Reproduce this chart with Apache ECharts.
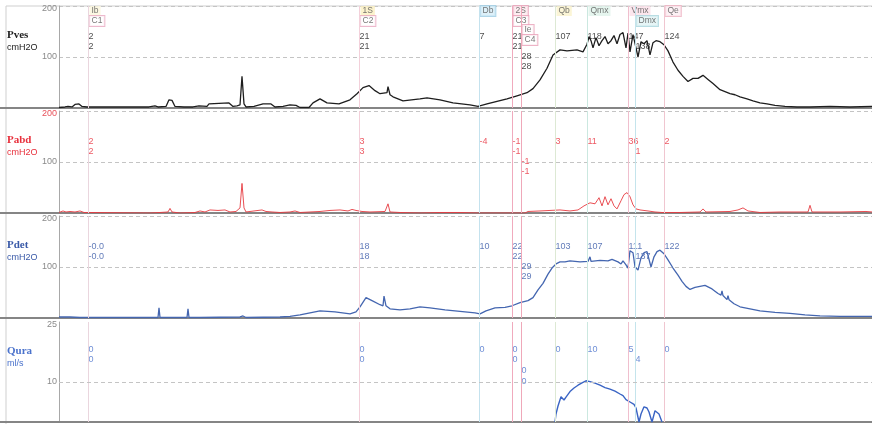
<!DOCTYPE html>
<html><head><meta charset="utf-8">
<script src="https://cdn.jsdelivr.net/npm/echarts@6/dist/echarts.min.js"></script>
<style>html,body{margin:0;padding:0;background:#fff}#c{width:872px;height:424px}</style>
</head><body><div id="c"></div>
<script>
// ---- DATA (time in s, values in cmH2O / ml/s) ----
const eventNames = ['Ib','1S','Db','2S','Ie','Qb','Qmx','Vmx','Dmx','Qe'];
const eventSub   = ['C1','C2','','C3','C4','','','','',''];
const eventTimes = [29,300,420,453,462,496,528,569,576,605];

const pvesRead = [['2','2'],['21','21'],['7'],['21','21'],['28','28'],['107'],['118'],['147'],['','138'],['124']];
const pabdRead = [['2','2'],['3','3'],['-4'],['-1','-1'],['-1','-1'],['3'],['11'],['36'],['','1'],['2']];
const pdetRead = [['-0.0','-0.0'],['18','18'],['10'],['22','22'],['29','29'],['103'],['107'],['111'],['','137'],['122']];
const quraRead = [['0','0'],['0','0'],['0'],['0','0'],['0','0'],['0'],['10'],['5'],['','4'],['0']];

const pves = [[0,1],[6,2],[9,3],[13,2],[16,7],[20,8],[23,3],[28,2],[36,2],[90,2],[96,4],[99,2],[107,3],[110,16],[113,15],[116,3],[125,2],[134,2],[140,4],[148,3],[150,8],[160,9],[170,10],[174,3],[178,4],[181,6],[183,62],[185,8],[187,2],[195,3],[204,8],[212,8],[216,2],[224,3],[231,6],[237,5],[241,1],[250,1],[254,10],[261,18],[268,10],[280,8],[291,16],[298,28],[304,40],[310,44],[316,34],[321,28],[328,30],[329,42],[331,26],[334,22],[344,14],[361,18],[368,20],[381,16],[394,10],[411,6],[419,3],[428,8],[438,13],[448,18],[458,24],[468,30],[474,38],[481,55],[488,78],[494,104],[501,114],[508,112],[518,114],[524,110],[528,125],[530,140],[532,132],[534,118],[537,138],[540,122],[543,132],[546,140],[549,126],[552,132],[555,142],[558,126],[561,144],[564,148],[567,118],[569,147],[571,110],[574,144],[577,118],[579,100],[582,130],[585,126],[588,132],[591,104],[594,128],[597,132],[601,130],[605,124],[609,112],[614,90],[619,74],[624,62],[629,52],[634,58],[639,58],[644,64],[649,56],[654,48],[661,36],[666,32],[671,28],[676,26],[681,22],[688,18],[694,14],[701,10],[708,8],[716,5],[726,3],[738,2],[751,2],[771,3],[791,2],[813,3]];

const pabd = [[0,1],[4,4],[7,2],[11,3],[16,2],[21,4],[25,1],[31,1],[91,0],[101,1],[109,2],[111,9],[113,2],[121,0],[136,1],[141,4],[146,2],[151,6],[159,5],[166,6],[171,2],[177,3],[181,10],[183,58],[185,10],[187,2],[191,3],[203,6],[207,3],[213,2],[221,1],[231,2],[236,4],[241,1],[251,2],[261,3],[271,5],[281,6],[289,4],[293,7],[297,5],[303,3],[311,2],[326,3],[329,18],[331,2],[341,1],[361,0],[381,1],[401,1],[419,0],[441,0],[466,0],[469,3],[481,4],[491,5],[501,6],[511,4],[519,6],[525,14],[531,20],[536,18],[540,30],[543,14],[546,32],[549,16],[552,28],[555,14],[558,8],[562,24],[565,36],[568,40],[571,32],[574,16],[577,8],[581,6],[589,4],[596,2],[603,1],[621,1],[641,2],[644,8],[647,2],[671,3],[679,6],[684,10],[689,4],[701,1],[721,2],[749,2],[751,15],[753,2],[781,2],[807,3],[813,2]];

const pdet = [[0,2],[11,2],[21,1],[91,1],[99,1],[100,20],[101,1],[128,1],[129,18],[130,1],[141,1],[181,2],[184,4],[187,1],[221,2],[231,3],[241,6],[251,10],[261,14],[276,12],[291,8],[297,12],[301,22],[307,40],[313,34],[321,26],[324,24],[325,43],[327,24],[331,18],[341,16],[351,18],[361,22],[371,20],[386,16],[401,13],[416,10],[421,8],[427,14],[436,20],[446,21],[453,24],[461,30],[469,34],[474,40],[479,55],[484,68],[489,86],[493,98],[497,106],[501,110],[506,110],[511,112],[521,110],[529,111],[531,120],[532,111],[541,113],[549,112],[553,115],[559,110],[562,106],[564,112],[567,104],[569,98],[571,132],[574,128],[576,100],[579,94],[582,118],[585,128],[588,130],[592,100],[595,120],[598,130],[601,133],[605,126],[609,114],[614,98],[619,84],[623,72],[627,62],[631,56],[636,60],[641,62],[646,64],[653,57],[659,48],[662,45],[663,53],[664,44],[668,36],[669,44],[670,36],[675,28],[681,22],[691,18],[701,14],[716,11],[731,9],[746,6],[761,4],[781,3],[801,3],[813,3]];

const qura = [[496,0],[497,2],[498,1.5],[499,4],[502,6.3],[505,5.5],[507,6.2],[511,7.6],[515,8.5],[519,9.2],[523,9.8],[527,10.3],[531,10.1],[536,9.7],[541,9.2],[546,8.6],[551,8.2],[556,7.7],[561,7.0],[564,6.6],[567,5.6],[571,5.0],[575,4.4],[577,3.5],[580,0],[582,2],[585,3.8],[588,3.5],[590,2.5],[593,0],[596,2.8],[598,3.2],[600,2],[603,0]];

const panelNames = ['Pves','Pabd','Pdet','Qura'];
const panelUnits = ['cmH2O','cmH2O','cmH2O','ml/s'];

// ---- LAYOUT / STYLE ----
const T_MAX = 813;
const G = [
  {top:6,   height:102, max:200, interval:100, rows:[31,41,51,61]},
  {top:111, height:102, max:200, interval:100, rows:[31,41,51,61]},
  {top:216, height:102, max:200, interval:100, rows:[31,41,51,61]},
  {top:322, height:100, max:25,  interval:5,   rows:[28,38,49,60]}
];
const readRowStart = [0,0,0,0,2,0,0,0,0,0];
const tagRowStart  = [0,0,0,0,2,0,0,0,1,0];
const tagRowsPx = [5,15,24,34];
const traceColors = ['#1e1e1e','#e63a3f','#4466b0','#3a64c4'];
const traceWidths = [1.3, 0.9, 1.3, 1.4];
const textColors  = ['#222222','#e8303c','#3a5aa8','#4a72cc'];
const evColors = ['#ead6de','#f3d0da','#c4e2ee','#f0aabd','#efa8b9','#dde9d4','#cbe8e0','#f0bfce','#c4e4ec','#f0c6d0'];
const tagStyle = {
  'Ib': {bg:'#fbf6dc', bd:'transparent'}, 'C1': {bg:'#ffffff', bd:'#e8a8c0'},
  '1S': {bg:'#fbf0c0', bd:'transparent'}, 'C2': {bg:'#ffffff', bd:'#e8a8c0'},
  'Db': {bg:'#d4ecf8', bd:'#9ccce4'},
  '2S': {bg:'#fde8ee', bd:'#e8a0b8'}, 'C3': {bg:'#ffffff', bd:'#e8a0b8'},
  'Ie': {bg:'#ffffff', bd:'#e8a0b8'}, 'C4': {bg:'#ffffff', bd:'#e8a0b8'},
  'Qb': {bg:'#faf3cc', bd:'transparent'}, 'Qmx': {bg:'#dff2ea', bd:'transparent'},
  'Vmx': {bg:'#fbe0e8', bd:'transparent'}, 'Dmx': {bg:'#e0f2f4', bd:'#a8d4dc'},
  'Qe': {bg:'#fdeef2', bd:'#eeb0c0'}
};
const FONT = 'Liberation Sans, Arial, sans-serif';

const chart = echarts.init(document.getElementById('c'), null, {renderer:'canvas'});
const pxToVal = (g, off) => g.max * (1 - off / g.height);

const traces = [pves, pabd, pdet, qura];
const reads = [pvesRead, pabdRead, pdetRead, quraRead];

const grids = G.map(g => ({left:59, right:0, top:g.top, height:g.height, containLabel:false}));
const xAxes = G.map((g,i) => ({
  type:'value', gridIndex:i, min:0, max:T_MAX,
  axisLine:{show:true, onZero:false, lineStyle:{color:'#858585', width:2}},
  axisTick:{show:false}, axisLabel:{show:false}, splitLine:{show:false}
}));
const yAxes = G.map((g,i) => ({
  type:'value', gridIndex:i, min:0, max:g.max, interval:g.interval,
  axisLine:{show:true, lineStyle:{color:'#a8a8a8', width:1}},
  axisTick:{show:false},
  axisLabel:{
    margin:2, fontSize:9, fontFamily:FONT, color:'#8a8a8a',
    formatter: v => {
      if (i === 3) return v === 25 ? '{t|25}' : (v === 10 ? '10' : '');
      if (v === 0) return '';
      if (v === 200) return i === 1 ? '{r|200}' : '{t|200}';
      return String(v);
    },
    rich:{
      r:{color:'#e8505a', fontSize:9, fontFamily:FONT, padding:[5,0,0,0]},
      t:{color:'#8a8a8a', fontSize:9, fontFamily:FONT, padding:[5,0,0,0]}
    }
  },
  splitLine:{show: i !== 3, lineStyle:{color:'#c4c4c4', type:[4,3], width:1}}
}));

const series = [];
G.forEach((g,i) => {
  const rd = [];
  reads[i].forEach((arr,k) => {
    arr.forEach((txt,j) => {
      if (!txt) return;
      rd.push({name:txt, value:[eventTimes[k], pxToVal(g, g.rows[readRowStart[k]+j])]});
    });
  });
  const mlData = eventTimes.map((t,k) => ({xAxis:t, lineStyle:{color:evColors[k], width:1, type:'solid'}}));
  if (i === 3) mlData.push({yAxis:10, lineStyle:{color:'#c4c4c4', width:1, type:[4,3]}});
  series.push({
    type:'scatter', xAxisIndex:i, yAxisIndex:i, z:1, symbolSize:1,
    itemStyle:{color:'rgba(0,0,0,0)'}, silent:true,
    label:{show:true, position:'right', distance:0, formatter:'{b}', fontSize:9, fontFamily:FONT, color:textColors[i]},
    data: rd,
    markLine:{silent:true, symbol:['none','none'], label:{show:false}, data: mlData, animation:false}
  });
  series.push({
    type:'line', xAxisIndex:i, yAxisIndex:i, z:3, data:traces[i],
    symbol:'none', showSymbol:false, silent:true,
    lineStyle:{color:traceColors[i], width:traceWidths[i]}
  });
});

const tags = [];
eventNames.forEach((n,k) => {
  const r = tagRowStart[k];
  const list = [n]; if (eventSub[k]) list.push(eventSub[k]);
  list.forEach((txt,j) => {
    const st = tagStyle[txt];
    tags.push({name:txt, value:[eventTimes[k], pxToVal(G[0], tagRowsPx[r+j])],
      label:{backgroundColor:st.bg, borderColor:st.bd, borderWidth:1, padding:[1,2,0,2]}});
  });
});
series.push({
  type:'scatter', xAxisIndex:0, yAxisIndex:0, z:4, symbolSize:1, silent:true,
  itemStyle:{color:'rgba(0,0,0,0)'},
  label:{show:true, position:'right', distance:1, formatter:'{b}', fontSize:8.5, fontFamily:FONT, color:'#555', lineHeight:9},
  data: tags
});

const graphic = [
  {type:'line', shape:{x1:6,y1:6,x2:872,y2:6}, style:{stroke:'#cfcfcf', lineWidth:1}, silent:true},
  {type:'line', shape:{x1:6,y1:6,x2:6,y2:424}, style:{stroke:'#cfcfcf', lineWidth:1}, silent:true}
];
G.forEach((g,i) => {
  const yb = g.top + g.height;
  graphic.push({type:'line', shape:{x1:0,y1:yb,x2:60,y2:yb}, style:{stroke:'#858585', lineWidth:2}, silent:true});
  graphic.push({type:'text', left:7, top:g.top+24, style:{text:panelNames[i], fill:textColors[i], font:'bold 11px "Liberation Serif", "DejaVu Serif", serif'}, silent:true});
  graphic.push({type:'text', left:7, top:g.top+37, style:{text:panelUnits[i], fill:textColors[i], font:'9px ' + FONT}, silent:true});
});

chart.setOption({
  animation:false,
  backgroundColor:'#ffffff',
  grid:grids, xAxis:xAxes, yAxis:yAxes, series:series, graphic:graphic
});
</script>
</body></html>
